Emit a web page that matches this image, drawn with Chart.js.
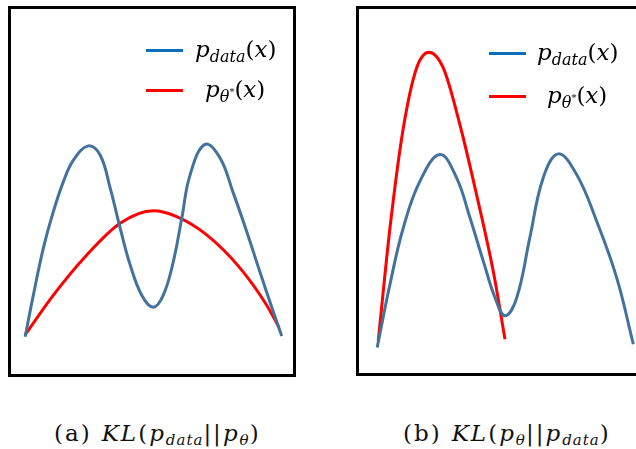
<!DOCTYPE html>
<html>
<head>
<meta charset="utf-8">
<script src="https://cdn.jsdelivr.net/npm/chart.js@4/dist/chart.umd.min.js"></script>
<style>
  html, body { margin: 0; padding: 0; background: #fff; }
  body { width: 636px; height: 449px; position: relative; overflow: hidden; }
  .panel { position: absolute; border: 3px solid #000; background: #fff; }
  .panel canvas { display: block; }
  .key { position: absolute; height: 3px; width: 37px; }
  .lab { position: absolute; font-family: "DejaVu Serif", serif; font-style: italic; font-size: 23px; line-height: 24px; color: #000; white-space: nowrap; }
  .lab sub { font-size: 16px; vertical-align: -5px; }
  .lab sub sup { font-size: 10px; vertical-align: 7px; font-style: normal; }
  .cap { position: absolute; top: 419px; font-family: "DejaVu Serif", serif; font-size: 23px; line-height: 28px; color: #111; white-space: nowrap; letter-spacing: 2px; }
  .cap i { font-style: italic; }
  .cap sub { font-size: 15px; vertical-align: -4px; font-style: italic; letter-spacing: 1px; }
  .cap .gap { display: inline-block; width: 10px; }
</style>
</head>
<body>

<div class="panel" style="left:8px; top:6px; width:282px; height:365px;">
  <canvas id="chartA" width="282" height="365"></canvas>
</div>
<div class="panel" style="left:356px; top:6px; width:282px; height:364px;">
  <canvas id="chartB" width="282" height="364"></canvas>
</div>

<!-- legends -->
<div class="key" style="left:146px; top:49px; background:#0b6fbf;"></div>
<div class="lab" style="left:195px; top:37px;"><i>p</i><sub>data</sub><span style="font-style:normal">(</span>x<span style="font-style:normal">)</span></div>
<div class="key" style="left:146px; top:89px; background:#ff0000;"></div>
<div class="lab" style="left:205px; top:77px;"><i>p</i><sub>θ<sup>*</sup></sub><span style="font-style:normal">(</span>x<span style="font-style:normal">)</span></div>

<div class="key" style="left:489px; top:52px; background:#0b6fbf;"></div>
<div class="lab" style="left:537px; top:40px;"><i>p</i><sub>data</sub><span style="font-style:normal">(</span>x<span style="font-style:normal">)</span></div>
<div class="key" style="left:489px; top:95px; background:#ff0000;"></div>
<div class="lab" style="left:547px; top:83px;"><i>p</i><sub>θ<sup>*</sup></sub><span style="font-style:normal">(</span>x<span style="font-style:normal">)</span></div>

<!-- captions -->
<div class="cap" style="left:54px;">(a)<span class="gap"></span><i>KL</i>(<i>p</i><sub>data</sub>||<i>p</i><sub>θ</sub>)</div>
<div class="cap" style="left:403px;">(b)<span class="gap"></span><i>KL</i>(<i>p</i><sub>θ</sub>||<i>p</i><sub>data</sub>)</div>

<script>
// Panel (a): forward KL, model covers both modes
const dataAx = [0, 0.32, 0.71, 1.10, 1.49, 1.88, 2.46, 2.92, 3.31, 3.70, 4.09, 4.54, 4.99, 5.38, 5.77, 6.10, 6.42, 7.00, 7.59, 8.09, 8.63, 9.14, 9.66, 9.99];
const dataAy = [0.102, 0.216, 0.345, 0.445, 0.527, 0.586, 0.625, 0.600, 0.510, 0.400, 0.299, 0.216, 0.183, 0.216, 0.308, 0.427, 0.545, 0.629, 0.592, 0.499, 0.390, 0.280, 0.171, 0.104];
const modelAx = [0, 1.10, 2.40, 3.70, 4.99, 5.90, 7.07, 8.37, 9.40, 9.89];
const modelAy = [0.107, 0.216, 0.326, 0.413, 0.447, 0.431, 0.381, 0.290, 0.189, 0.127];

// Panel (b): reverse KL, model locks onto one mode
const dataBx = [0, 0.50, 1.02, 1.67, 2.45, 3.10, 3.62, 4.14, 4.60, 4.99, 5.45, 5.96, 6.48, 7.07, 7.79, 8.57, 9.35, 10.0];
const dataBy = [0.070, 0.244, 0.399, 0.527, 0.600, 0.536, 0.427, 0.308, 0.207, 0.157, 0.207, 0.372, 0.536, 0.602, 0.545, 0.417, 0.262, 0.079];
const modelBx = [0.04, 0.50, 1.02, 1.54, 2.02, 2.58, 3.23, 3.88, 4.53, 4.99];
const modelBy = [0.088, 0.399, 0.673, 0.838, 0.881, 0.838, 0.682, 0.490, 0.280, 0.093];

const blueLine = '#44729e';
const redLine = '#ff0000';

function toPoints(xs, ys) {
    return xs.map((x, i) => ({ x: x, y: ys[i] }));
}

function makeChart(id, dx, dy, mx, my, xMin, xMax) {
    const ctx = document.getElementById(id);
    return new Chart(ctx.getContext('2d'), {
        type: 'line',
        data: {
            datasets: [{
                label: 'p_data(x)',
                data: toPoints(dx, dy),
                borderColor: blueLine,
                borderWidth: 3,
                tension: 0.4,
                pointRadius: 0,
                fill: false
            }, {
                // single hump, monotone keeps it smooth
                label: 'p_theta*(x)',
                data: toPoints(mx, my),
                borderColor: redLine,
                borderWidth: 3,
                cubicInterpolationMode: 'monotone',
                pointRadius: 0,
                fill: false
            }]
        },
        options: {
            responsive: false,
            animation: false,
            layout: { padding: 0 },
            plugins: {
                legend: { display: false },
                tooltip: { enabled: false }
            },
            scales: {
                x: { type: 'linear', min: xMin, max: xMax, display: false },
                y: { min: 0, max: 1, display: false }
            }
        }
    });
}

makeChart('chartA', dataAx, dataAy, modelAx, modelAy, -0.55, 10.43);
makeChart('chartB', dataBx, dataBy, modelBx, modelBy, -0.71, 10.3);
</script>
</body>
</html>
